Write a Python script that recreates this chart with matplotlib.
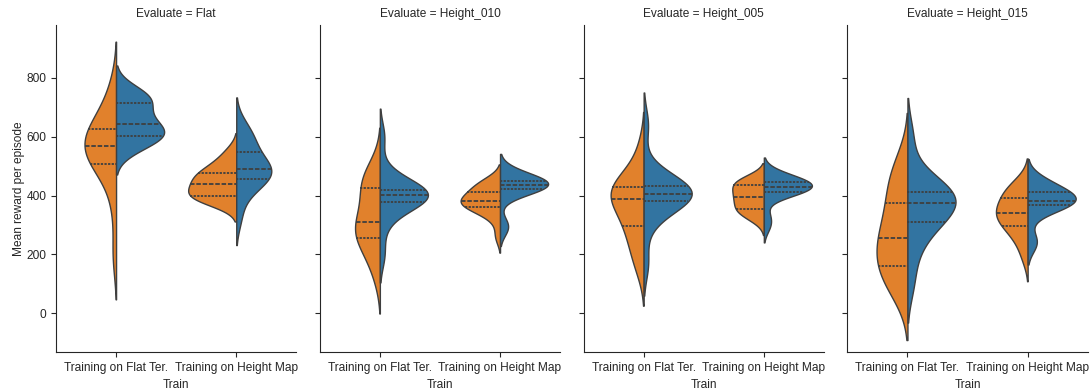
import matplotlib
matplotlib.use("Agg")
import matplotlib.pyplot as plt
import pandas as pd
import seaborn as sns

# evaluation terrains (facet columns) and training setups (x categories)
evaluate_order = ["Flat", "Height_010", "Height_005", "Height_015"]
train_order = ["Training on Flat Ter.", "Training on Height Map"]
half_order = ["left", "right"]  # orange / blue halves of each split violin

# mean reward per episode samples, estimated from the figure
flat_flat_l = [200, 370, 480, 503, 510, 535, 555, 565, 571, 585, 600, 623, 635, 660, 700, 770]
flat_flat_r = [548, 575, 590, 598, 602, 615, 625, 635, 648, 665, 690, 712, 725, 730, 745, 765]
flat_hm_l = [372, 385, 392, 396, 400, 410, 425, 435, 445, 455, 465, 475, 483, 500, 520, 552]
flat_hm_r = [325, 400, 430, 450, 458, 468, 480, 485, 493, 505, 520, 540, 572, 590, 610, 640]

h010_flat_l = [125, 185, 220, 245, 261, 275, 290, 303, 319, 345, 380, 420, 440, 450, 465, 505]
h010_flat_r = [200, 300, 355, 375, 380, 388, 395, 398, 404, 410, 415, 418, 426, 440, 480, 600]
h010_hm_l = [262, 320, 345, 358, 363, 368, 374, 379, 385, 392, 400, 410, 425, 435, 445, 450]
h010_hm_r = [290, 300, 405, 420, 424, 428, 432, 434, 436, 440, 443, 446, 455, 462, 470, 480]

h005_flat_l = [150, 200, 240, 280, 301, 330, 360, 380, 396, 405, 415, 425, 438, 450, 480, 560]
h005_flat_r = [170, 300, 350, 372, 383, 390, 396, 401, 407, 413, 420, 430, 442, 455, 480, 640]
h005_hm_l = [318, 335, 345, 352, 356, 372, 385, 392, 400, 410, 420, 432, 444, 448, 452, 458]
h005_hm_r = [295, 330, 400, 410, 413, 418, 424, 428, 432, 436, 440, 443, 452, 458, 465, 475]

h015_flat_l = [70, 90, 130, 155, 165, 195, 225, 245, 265, 290, 330, 365, 410, 440, 480, 520]
h015_flat_r = [100, 200, 260, 300, 312, 335, 355, 370, 382, 390, 400, 408, 424, 440, 470, 600]
h015_hm_l = [190, 240, 270, 290, 298, 322, 330, 336, 344, 355, 370, 390, 402, 415, 430, 445]
h015_hm_r = [235, 250, 340, 365, 370, 374, 378, 380, 384, 390, 398, 408, 420, 430, 440, 455]

groups = [
    ("Flat", train_order[0], "left", flat_flat_l),
    ("Flat", train_order[0], "right", flat_flat_r),
    ("Flat", train_order[1], "left", flat_hm_l),
    ("Flat", train_order[1], "right", flat_hm_r),
    ("Height_010", train_order[0], "left", h010_flat_l),
    ("Height_010", train_order[0], "right", h010_flat_r),
    ("Height_010", train_order[1], "left", h010_hm_l),
    ("Height_010", train_order[1], "right", h010_hm_r),
    ("Height_005", train_order[0], "left", h005_flat_l),
    ("Height_005", train_order[0], "right", h005_flat_r),
    ("Height_005", train_order[1], "left", h005_hm_l),
    ("Height_005", train_order[1], "right", h005_hm_r),
    ("Height_015", train_order[0], "left", h015_flat_l),
    ("Height_015", train_order[0], "right", h015_flat_r),
    ("Height_015", train_order[1], "left", h015_hm_l),
    ("Height_015", train_order[1], "right", h015_hm_r),
]

rows = []
for ev, tr, half, vals in groups:
    for v in vals:
        rows.append({"Evaluate": ev, "Train": tr, "Half": half, "Mean reward per episode": v})
df = pd.DataFrame(rows)

sns.set_style("ticks")
plt.rcParams["font.family"] = ["Liberation Sans", "DejaVu Sans"]
plt.rcParams["font.size"] = 8.6


def split_violins(data, **kws):
    # one call per x category, so the widths are scaled within each category
    ax = plt.gca()
    for tr in train_order:
        sub = data[data["Train"] == tr]
        sns.violinplot(data=sub, x="Train", y="Mean reward per episode", hue="Half",
                       order=train_order, hue_order=half_order, split=True,
                       inner="quart", common_norm=True,
                       palette=["tab:orange", "tab:blue"], linewidth=1,
                       inner_kws=dict(linewidth=1.3), legend=False, ax=ax)


g = sns.FacetGrid(df, col="Evaluate", col_order=evaluate_order, height=3.9, aspect=0.7)
g.map_dataframe(split_violins)
g.set_axis_labels("Train", "Mean reward per episode")

g.fig.set_size_inches(10.91, 3.9)
g.fig.subplots_adjust(left=0.0513, right=0.997, top=0.936, bottom=0.0974, wspace=0.0975)
for ax in g.axes.flat:
    ax.set_ylim(-131, 979)
    ax.set_yticks([0, 200, 400, 600, 800])
    ax.set_xlim(-0.5, 1.5)
    ax.tick_params(labelsize=8.6)
    ax.title.set_fontsize(8.6)
    ax.xaxis.label.set_fontsize(8.6)
    ax.yaxis.label.set_fontsize(8.6)
g.axes.flat[0].yaxis.labelpad = 1

g.fig.savefig("out.png", dpi=100)
